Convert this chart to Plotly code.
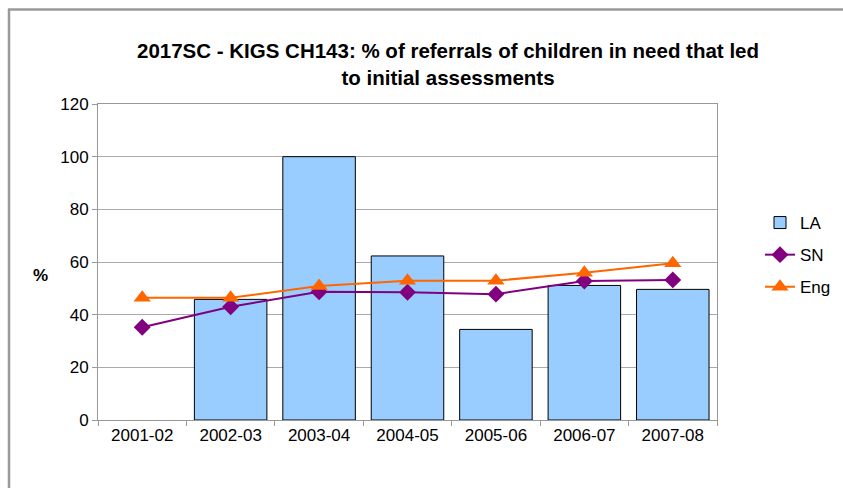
import plotly.graph_objects as go

categories = ["2001-02", "2002-03", "2003-04", "2004-05", "2005-06", "2006-07", "2007-08"]
la_values = [None, 45.8, 100.0, 62.3, 34.4, 51.1, 49.6]
sn_values = [35.2, 43.0, 48.7, 48.5, 47.8, 52.8, 53.2]
eng_values = [46.4, 46.4, 50.9, 52.9, 52.9, 55.9, 59.5]
y_ticks = [0, 20, 40, 60, 80, 100, 120]

FONT = "Liberation Sans, Arial, sans-serif"

fig = go.Figure()
fig.add_trace(go.Bar(
    x=categories, y=la_values, name="LA", legendgroup="a",
    marker=dict(color="#99CCFF", line=dict(color="#000000", width=1)),
    width=0.82,
))
fig.add_trace(go.Scatter(
    x=categories, y=sn_values, name="SN", mode="lines+markers", legendgroup="b",
    line=dict(color="#800080", width=2),
    marker=dict(symbol="diamond", size=13, color="#800080"),
))
fig.add_trace(go.Scatter(
    x=categories, y=eng_values, name="Eng", mode="lines+markers", legendgroup="c",
    line=dict(color="#FF6600", width=2),
    marker=dict(symbol="triangle-up", size=15, color="#FF6600"),
))

W, H = 843, 488
L, R, T, B = 98, 717, 104, 420
pw, ph = R - L, B - T

def px(x):
    return (x - L) / pw

def py(y):
    return (B - y) / ph

fig.update_layout(
    width=W, height=H,
    margin=dict(l=L, r=W - R, t=T, b=H - B, autoexpand=False),
    paper_bgcolor="white", plot_bgcolor="white",
    font=dict(family=FONT, size=17, color="#000000"),
    title=dict(
        text="<b>2017SC - KIGS CH143: % of referrals of children in need that led<br>to initial assessments</b>",
        x=448 / W, xanchor="center", y=1 - 58 / H, yanchor="middle",
        font=dict(family=FONT, size=20.5, color="#000000"),
    ),
    showlegend=True,
    legend=dict(
        x=px(760), y=py(205), xanchor="left", yanchor="top",
        font=dict(family=FONT, size=17), bgcolor="rgba(0,0,0,0)",
        tracegroupgap=7,
    ),
    bargap=0.18,
    xaxis=dict(
        type="category", showline=True, linecolor="#999999", linewidth=1,
        mirror=True, ticks="outside", ticklen=5, tickcolor="#999999",
        tickson="boundaries", showgrid=False,
        tickfont=dict(family=FONT, size=17, color="#000000"),
    ),
    yaxis=dict(
        range=[0, 120], tickvals=y_ticks, showline=True, linecolor="#999999",
        linewidth=1, mirror=True, ticks="outside", ticklen=5, tickcolor="#999999",
        showgrid=True, gridcolor="#AAAAAA", gridwidth=1, zeroline=False,
        tickfont=dict(family=FONT, size=17, color="#000000"),
    ),
    annotations=[dict(
        text="<b>%</b>", x=px(31), y=py(275), xref="paper", yref="paper",
        showarrow=False, font=dict(family=FONT, size=17, color="#000000"),
    )],
    shapes=[
        dict(type="line", xref="paper", yref="paper",
             x0=px(9), x1=px(9), y0=py(9), y1=py(500),
             line=dict(color="#999999", width=2.5)),
        dict(type="line", xref="paper", yref="paper",
             x0=px(8), x1=px(850), y0=py(9.5), y1=py(9.5),
             line=dict(color="#999999", width=2.5)),
    ],
)

fig.write_html(
    "out.html",
    config={"displayModeBar": False},
    post_script="document.body.style.margin='0';document.body.style.overflow='hidden';",
)
